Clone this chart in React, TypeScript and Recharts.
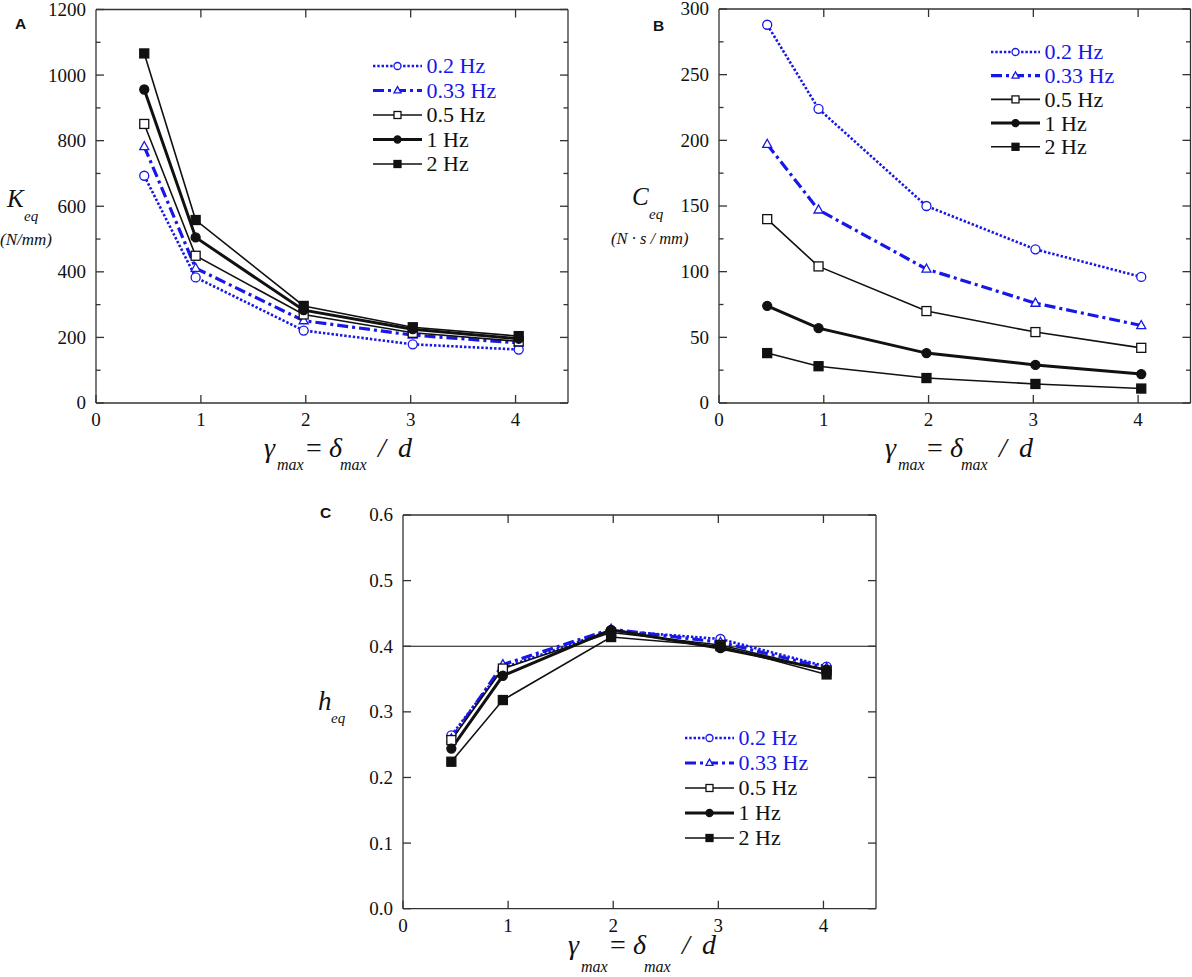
import React from 'react';
import { LineChart, Line, XAxis, YAxis, ReferenceLine, Legend } from 'recharts';

// ---------- data ----------
const GAMMA = [0.46, 0.95, 1.98, 3.02, 4.03];
const FREQ_LABELS = ['0.2 Hz', '0.33 Hz', '0.5 Hz', '1 Hz', '2 Hz'];

const KEQ_02 = [693, 383, 221, 179, 163];
const KEQ_033 = [782, 411, 251, 207, 183];
const KEQ_05 = [851, 449, 270, 214, 188];
const KEQ_1 = [956, 505, 283, 225, 196];
const KEQ_2 = [1066, 558, 296, 231, 204];

const CEQ_02 = [288, 224, 150, 117, 96];
const CEQ_033 = [197, 147, 102, 76, 59];
const CEQ_05 = [140, 104, 70, 54, 42];
const CEQ_1 = [74, 57, 38, 29, 22];
const CEQ_2 = [38, 28, 19, 14.5, 11];

const HEQ_02 = [0.264, 0.367, 0.424, 0.411, 0.369];
const HEQ_033 = [0.259, 0.372, 0.426, 0.406, 0.367];
const HEQ_05 = [0.257, 0.366, 0.421, 0.402, 0.363];
const HEQ_1 = [0.244, 0.355, 0.425, 0.397, 0.364];
const HEQ_2 = [0.224, 0.318, 0.414, 0.400, 0.357];

const X_TICKS = [0, 1, 2, 3, 4];
const X_TICKS_TOP = [1, 2, 3, 4];
const K_TICKS = [0, 100, 200, 300, 400, 500, 600, 700, 800, 900, 1000, 1100, 1200];
const C_TICKS = [0, 25, 50, 75, 100, 125, 150, 175, 200, 225, 250, 275, 300];
const H_TICKS = [0, 0.1, 0.2, 0.3, 0.4, 0.5, 0.6];

const KEYS = ['f02', 'f033', 'f05', 'f1', 'f2'];

function buildRows(series: number[][]) {
  return GAMMA.map((g, i) => {
    const row: any = { x: g };
    KEYS.forEach((k, j) => { row[k] = series[j][i]; });
    return row;
  });
}

const K_ROWS = buildRows([KEQ_02, KEQ_033, KEQ_05, KEQ_1, KEQ_2]);
const C_ROWS = buildRows([CEQ_02, CEQ_033, CEQ_05, CEQ_1, CEQ_2]);
const H_ROWS = buildRows([HEQ_02, HEQ_033, HEQ_05, HEQ_1, HEQ_2]);

// ---------- styles ----------
const BLUE = '#1717e8';
const BLACK = '#111';
const AXIS = '#333';
const SERIF = '"Liberation Serif", "Times New Roman", serif';
const SANS = '"Liberation Sans", Arial, sans-serif';

type Style = { key: string; color: string; width: number; dash?: string; shape: string; filled: boolean };
const STYLES: Style[] = [
  { key: 'f02', color: BLUE, width: 2.6, dash: '2.4 1.9', shape: 'circle', filled: false },
  { key: 'f033', color: BLUE, width: 3.2, dash: '11 4 3 4', shape: 'triangle', filled: false },
  { key: 'f05', color: BLACK, width: 1.6, shape: 'square', filled: false },
  { key: 'f1', color: BLACK, width: 3, shape: 'circle', filled: true },
  { key: 'f2', color: BLACK, width: 1.6, shape: 'square', filled: true },
];

function Marker({ shape, filled, color, cx, cy, size }: any) {
  const fill = filled ? color : '#fff';
  const sw = 1.3;
  if (cx == null || cy == null) return null;
  if (shape === 'circle') return <circle cx={cx} cy={cy} r={size / 2} fill={fill} stroke={color} strokeWidth={sw} />;
  if (shape === 'square')
    return <rect x={cx - size / 2} y={cy - size / 2} width={size} height={size} fill={fill} stroke={color} strokeWidth={sw} />;
  const h = size * 0.9;
  const pts = `${cx},${cy - h * 0.62} ${cx - size / 2},${cy + h * 0.38} ${cx + size / 2},${cy + h * 0.38}`;
  return <polygon points={pts} fill={fill} stroke={color} strokeWidth={sw} strokeLinejoin="miter" />;
}

function makeDot(s: Style) {
  return (p: any) => (
    <Marker key={`dot-${s.key}-${p.index}`} shape={s.shape} filled={s.filled} color={s.color} cx={p.cx} cy={p.cy} size={9} />
  );
}

// ---------- ticks ----------
const TICK_FONT = 19;
const MAJOR = 8;
const MINOR = 4.5;

function leftTick(isMajor: (v: number) => boolean, fmt: (v: number) => string) {
  return (p: any) => {
    const v = p.payload.value;
    const major = isMajor(v);
    return (
      <g>
        <line x1={p.x} y1={p.y} x2={p.x + (major ? MAJOR : MINOR)} y2={p.y} stroke={AXIS} strokeWidth={1.3} />
        {major && (
          <text x={p.x - 10} y={p.y} dy="0.34em" textAnchor="end" style={{ fontFamily: SERIF }} fontSize={TICK_FONT} fill="#111">
            {fmt(v)}
          </text>
        )}
      </g>
    );
  };
}

function rightTick(isMajor: (v: number) => boolean) {
  return (p: any) => {
    const major = isMajor(p.payload.value);
    return <line x1={p.x} y1={p.y} x2={p.x - (major ? MAJOR : MINOR)} y2={p.y} stroke={AXIS} strokeWidth={1.3} />;
  };
}

const bottomTick = (p: any) => (
  <g>
    <line x1={p.x} y1={p.y} x2={p.x} y2={p.y - MAJOR} stroke={AXIS} strokeWidth={1.3} />
    <text x={p.x} y={p.y + 23} textAnchor="middle" style={{ fontFamily: SERIF }} fontSize={TICK_FONT} fill="#111">
      {p.payload.value}
    </text>
  </g>
);

const topTick = (p: any) => <line x1={p.x} y1={p.y} x2={p.x} y2={p.y + MAJOR} stroke={AXIS} strokeWidth={1.3} />;

// ---------- legend ----------
function LegendBox({ spacing }: { spacing: number }) {
  return (
    <svg width={175} height={14 + spacing * 4 + 16} style={{ display: 'block', overflow: 'visible' }}>
      {STYLES.map((s, i) => {
        const y = 12 + i * spacing;
        return (
          <g key={s.key}>
            <line x1={0} y1={y} x2={49} y2={y} stroke={s.color} strokeWidth={s.width} strokeDasharray={s.dash} />
            <Marker shape={s.shape} filled={s.filled} color={s.color} cx={24.5} cy={y} size={7} />
            <text x={53.5} y={y} dy="0.34em" style={{ fontFamily: SERIF }} fontSize={22} fill={s.color}>
              {FREQ_LABELS[i]}
            </text>
          </g>
        );
      })}
    </svg>
  );
}

// ---------- panel ----------
type PanelProps = {
  rows: any[];
  left: number;
  top: number;
  width: number;
  height: number;
  margin: { top: number; right: number; bottom: number; left: number };
  yDomain: [number, number];
  yTicks: number[];
  isMajor: (v: number) => boolean;
  fmtY: (v: number) => string;
  legendLeft: number;
  legendTop: number;
  legendSpacing: number;
  refY?: number;
};

const AX = { stroke: AXIS, strokeWidth: 1.3 };

function Panel(props: PanelProps) {
  const { rows, left, top, width, height, margin, yDomain, yTicks, isMajor, fmtY, legendLeft, legendTop, legendSpacing, refY } = props;
  // each axis takes 1px of room; the margins passed in are the full distances to the plot box
  const m = { top: margin.top - 1, right: margin.right - 1, bottom: margin.bottom - 1, left: margin.left - 1 };
  return (
    <div style={{ position: 'absolute', left, top, width, height }}>
      <LineChart width={width} height={height} data={rows} margin={m}>
        <XAxis
          xAxisId="b"
          type="number"
          dataKey="x"
          domain={[0, 4.5]}
          ticks={X_TICKS}
          interval={0}
          height={1}
          tickSize={0}
          tickMargin={0}
          tickLine={false}
          axisLine={AX}
          tick={bottomTick}
          allowDataOverflow
        />
        <XAxis
          xAxisId="t"
          orientation="top"
          type="number"
          dataKey="x"
          domain={[0, 4.5]}
          ticks={X_TICKS_TOP}
          interval={0}
          height={1}
          tickSize={0}
          tickMargin={0}
          tickLine={false}
          axisLine={AX}
          tick={topTick}
          allowDataOverflow
        />
        <YAxis
          yAxisId="l"
          type="number"
          domain={yDomain}
          ticks={yTicks}
          interval={0}
          width={1}
          tickSize={0}
          tickMargin={0}
          tickLine={false}
          axisLine={AX}
          tick={leftTick(isMajor, fmtY)}
          allowDataOverflow
        />
        <YAxis
          yAxisId="r"
          orientation="right"
          type="number"
          domain={yDomain}
          ticks={yTicks}
          interval={0}
          width={1}
          tickSize={0}
          tickMargin={0}
          tickLine={false}
          axisLine={AX}
          tick={rightTick(isMajor)}
          allowDataOverflow
        />
        {refY !== undefined && (
          <ReferenceLine xAxisId="b" yAxisId="l" y={refY} stroke={BLACK} strokeWidth={1.2} />
        )}
        {STYLES.map((s) => (
          <Line
            key={s.key}
            xAxisId="b"
            yAxisId="l"
            type="linear"
            dataKey={s.key}
            stroke={s.color}
            strokeWidth={s.width}
            strokeDasharray={s.dash}
            dot={makeDot(s)}
            activeDot={false}
            isAnimationActive={false}
          />
        ))}
        <Legend
          layout="vertical"
          align="center"
          verticalAlign="middle"
          content={() => <LegendBox spacing={legendSpacing} />}
          wrapperStyle={{ left: legendLeft, top: legendTop, width: 'auto', height: 'auto' }}
        />
      </LineChart>
    </div>
  );
}

// ---------- labels ----------
function XLabel({ x0, y, sub }: { x0: number; y: number; sub: number }) {
  const big = 28;
  const small = 16;
  return (
    <g style={{ fontFamily: SERIF }} fill="#111">
      <text x={x0} y={y} fontSize={big} fontStyle="italic">γ</text>
      <text x={x0 + 13} y={sub} fontSize={small} fontStyle="italic">max</text>
      <text x={x0 + 42} y={y} fontSize={big}>=</text>
      <text x={x0 + 65} y={y} fontSize={big} fontStyle="italic">δ</text>
      <text x={x0 + 76} y={sub} fontSize={small} fontStyle="italic">max</text>
      <text x={x0 + 114} y={y} fontSize={big} fontStyle="italic">/</text>
      <text x={x0 + 134} y={y} fontSize={big} fontStyle="italic">d</text>
    </g>
  );
}

function Labels() {
  return (
    <svg width={1192} height={977} style={{ position: 'absolute', left: 0, top: 0, pointerEvents: 'none' }}>
      <text x={15} y={29} style={{ fontFamily: SANS }} fontWeight="bold" fontSize={15.5} fill="#111">A</text>
      <text x={653} y={31} style={{ fontFamily: SANS }} fontWeight="bold" fontSize={15.5} fill="#111">B</text>
      <text x={320} y={518} style={{ fontFamily: SANS }} fontWeight="bold" fontSize={15.5} fill="#111">C</text>

      <g style={{ fontFamily: SERIF }} fill="#111" fontStyle="italic">
        <text x={7} y={207} fontSize={25}>K</text>
        <text x={24} y={221} fontSize={15}>eq</text>
        <text x={0} y={245} fontSize={17}>(N/mm)</text>
      </g>
      <g style={{ fontFamily: SERIF }} fill="#111" fontStyle="italic">
        <text x={632} y={205} fontSize={25}>C</text>
        <text x={649} y={219} fontSize={15}>eq</text>
        <text x={611} y={244} fontSize={16.5} style={{ whiteSpace: 'pre', fontFamily: SERIF }}>(N · s / mm)</text>
      </g>
      <g style={{ fontFamily: SERIF }} fill="#111" fontStyle="italic">
        <text x={318} y={710} fontSize={27}>h</text>
        <text x={331} y={723} fontSize={15}>eq</text>
      </g>

      <XLabel x0={264} y={457} sub={470} />
      <XLabel x0={885} y={457} sub={470} />
      <XLabel x0={568} y={954} sub={972} />
    </svg>
  );
}

export default function App() {
  return (
    <div style={{ position: 'absolute', left: 0, top: 0, width: 1192, height: 977, background: '#fff', overflow: 'hidden' }}>
      <Panel
        rows={K_ROWS}
        left={0}
        top={0}
        width={600}
        height={480}
        margin={{ top: 9.5, right: 32, bottom: 77, left: 96 }}
        yDomain={[0, 1200]}
        yTicks={K_TICKS}
        isMajor={(v) => v % 200 === 0}
        fmtY={(v) => String(v)}
        legendLeft={372.7}
        legendTop={54}
        legendSpacing={24.5}
      />
      <Panel
        rows={C_ROWS}
        left={600}
        top={0}
        width={592}
        height={480}
        margin={{ top: 9, right: 1.5, bottom: 77, left: 119 }}
        yDomain={[0, 300]}
        yTicks={C_TICKS}
        isMajor={(v) => v % 50 === 0}
        fmtY={(v) => String(v)}
        legendLeft={390.5}
        legendTop={39.7}
        legendSpacing={23.7}
      />
      <Panel
        rows={H_ROWS}
        left={300}
        top={490}
        width={600}
        height={487}
        margin={{ top: 25, right: 24, bottom: 68.3, left: 103 }}
        yDomain={[0, 0.6]}
        yTicks={H_TICKS}
        isMajor={() => true}
        fmtY={(v) => v.toFixed(1)}
        legendLeft={384.6}
        legendTop={236}
        legendSpacing={25}
        refY={0.4}
      />
      <Labels />
    </div>
  );
}
